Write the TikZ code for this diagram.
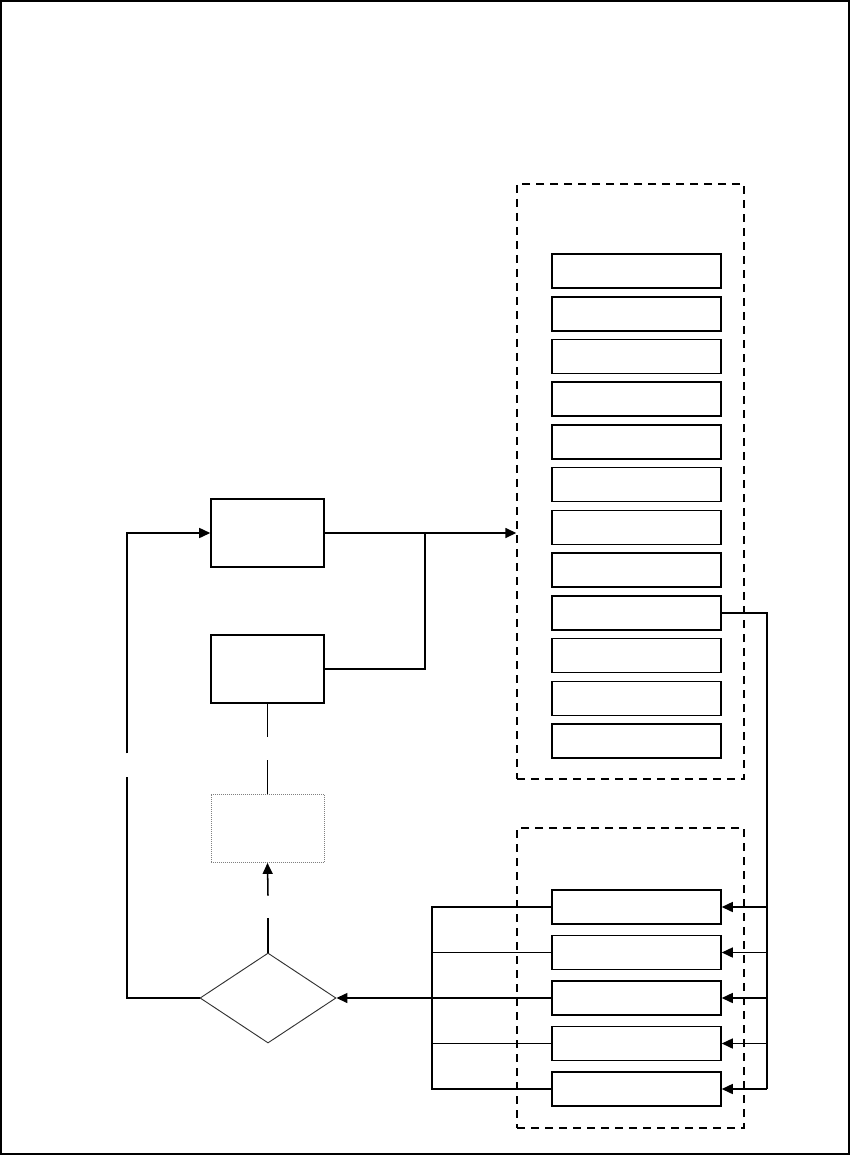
\documentclass[tikz,border=0pt]{standalone}
\usepackage{tikz}
\usetikzlibrary{arrows.meta,positioning,shapes.geometric}

\begin{document}
\begin{tikzpicture}[
    x=0.03cm, y=-0.03cm,
    every node/.style={draw, rectangle, inner sep=0pt, line width=1.3pt},
    block/.style={minimum width=3.39cm, minimum height=2.04cm},
    slot/.style={minimum width=5.07cm, minimum height=1.02cm},
    group/.style={dash pattern=on 2.4mm off 1.8mm, line width=1.2pt, minimum width=6.81cm},
    line/.style={line width=1.3pt},
    arrow/.style={-{Triangle[length=3.3mm, width=3mm]}, line width=1.3pt}
]
\useasboundingbox (0,0) rectangle (850,1155);
\draw[line width=1.5pt] (0.8,0.8) rectangle (848.7,1153.7);

% Left column
\node[block] (A) at (267.5,533) {};
\node[block] (B) at (267.5,669) {};
\node[block, draw=gray, line width=0.7pt, dash pattern=on 0.7pt off 1pt] (H) at (267.5,828.5) {};
\node[diamond, minimum width=4.08cm, minimum height=2.7cm, line width=0.8pt, draw=black!80] (D) at (268,998) {};

% Groups
\node[group, minimum height=17.85cm] (G1) at (630.5,481.5) {};
\node[group, minimum height=9cm] (G2) at (630.5,978) {};

% Slots
\foreach \i in {1,...,12}
  \node[slot] (S\i) at (636.5,228.3+42.73*\i) {};
\foreach \i in {1,...,5}
  \node[slot] (T\i) at (636.5,861.5+45.5*\i) {};

% Helper points
\coordinate (join) at (425,533);
\coordinate (lbus) at (432,907);
\coordinate (rbus) at (767,1089);
\coordinate (gapB1) at (267.5,736.7);
\coordinate (gapB2) at (267.5,760);
\coordinate (gapC1) at (268,918.3);
\coordinate (gapC2) at (268,895.7);
\coordinate (loopLo) at (127,777.3);
\coordinate (loopHi) at (127,753.3);

% Outputs of the left column
\draw[arrow] (A.east) -- (A.east -| G1.west);
\draw[line] (B.east) -| (join);
\draw[line] (B.south) -- (gapB1);
\draw[line] (gapB2) -- (H.north);
\draw[line] (D.north) -- (gapC1);
\draw[arrow] (gapC2) -- (H.south);

% Feedback loop
\draw[line] (D.west) -| (loopLo);
\draw[arrow] (loopHi) |- (A.west);

% Right bus
\draw[line] (S9.east) -| (rbus);
\foreach \i in {1,...,5}
  \draw[arrow] (T\i.east -| rbus) -- (T\i.east);

% Left bus
\draw[line] (T1.west) -- (lbus) -- (T5.west -| lbus) -- (T5.west);
\foreach \i in {2,4}
  \draw[line] (T\i.west) -- (T\i.west -| lbus);
\draw[arrow] (T3.west) -- (D.east);

\end{tikzpicture}
\end{document}
